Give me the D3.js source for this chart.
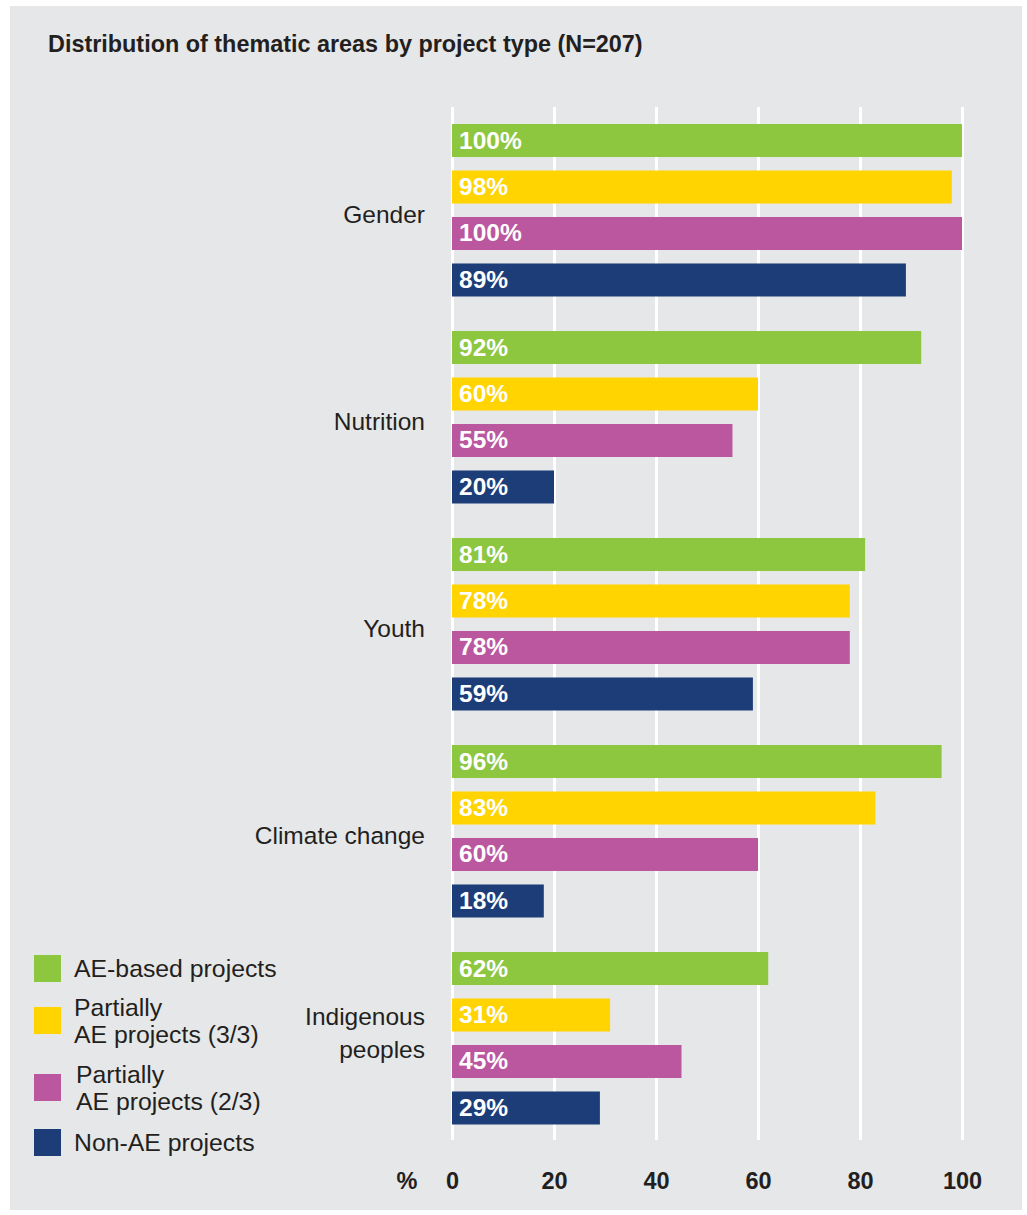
<!DOCTYPE html>
<html>
<head>
<meta charset="utf-8">
<script src="https://cdn.jsdelivr.net/npm/d3@7"></script>
<style>
  html, body { margin: 0; padding: 0; background: #ffffff; }
  svg { display: block; font-family: "Liberation Sans", Arial, Helvetica, sans-serif; }
</style>
</head>
<body>
<svg id="chart" width="1027" height="1215"></svg>
<script>
// Thematic areas (rows) and project types (series)
const categories = ["Gender", "Nutrition", "Youth", "Climate change", "Indigenous peoples"];
const categoryLines = [["Gender"], ["Nutrition"], ["Youth"], ["Climate change"], ["Indigenous", "peoples"]];
const seriesNames = ["AE-based projects", "Partially AE projects (3/3)", "Partially AE projects (2/3)", "Non-AE projects"];
const legendLines = [["AE-based projects"], ["Partially", "AE projects (3/3)"], ["Partially", "AE projects (2/3)"], ["Non-AE projects"]];
const seriesColors = ["#8dc63f", "#ffd400", "#bb579f", "#1c3d78"];

// Share of projects (%) per thematic area, one array per project type
const aeBased      = [100, 92, 81, 96, 62];
const partial33    = [98, 60, 78, 83, 31];
const partial23    = [100, 55, 78, 60, 45];
const nonAE        = [89, 20, 59, 18, 29];
const seriesValues = [aeBased, partial33, partial23, nonAE];

const tickValues = [0, 20, 40, 60, 80, 100];
const titleText = "Distribution of thematic areas by project type (N=207)";

const svg = d3.select("#chart");
const ink = "#231f20";

// Panel background
svg.append("rect")
  .attr("x", 10).attr("y", 6)
  .attr("width", 1012).attr("height", 1204)
  .attr("fill", "#e6e7e8");

// Title
svg.append("text")
  .attr("x", 48).attr("y", 52)
  .attr("font-size", 23.4).attr("font-weight", "bold")
  .attr("fill", ink)
  .text(titleText);

// Scales
const plotTop = 107, plotBottom = 1142;
const x = d3.scaleLinear().domain([0, 100]).range([452, 962]);
const yGroup = d3.scaleBand().domain(categories).range([plotTop, plotBottom]).paddingInner(0).paddingOuter(0);
const ySeries = d3.scaleBand().domain(seriesNames).range([17, 189.5]).paddingInner(0.29).paddingOuter(0);

// Vertical gridlines + tick labels via axis
const axisY = 1140;
const axis = d3.axisBottom(x)
  .tickValues(tickValues)
  .tickSizeInner(-(axisY - plotTop))
  .tickSizeOuter(0)
  .tickPadding(32)
  .tickFormat(d3.format("d"));

const ax = svg.append("g")
  .attr("transform", `translate(0,${axisY})`)
  .call(axis);
ax.select(".domain").remove();
ax.selectAll(".tick line").attr("stroke", "#ffffff").attr("stroke-width", 3);
ax.selectAll(".tick text")
  .attr("fill", ink)
  .attr("font-size", 23.5)
  .attr("font-weight", "bold")
  .attr("font-family", "Liberation Sans, Arial, sans-serif");

svg.append("text")
  .attr("x", 407).attr("y", 1189)
  .attr("text-anchor", "middle")
  .attr("font-size", 23.5).attr("font-weight", "bold")
  .attr("fill", ink)
  .text("%");

// Rows of bars
const rows = categories.map((c, i) => ({
  category: c,
  lines: categoryLines[i],
  bars: seriesNames.map((s, j) => ({ series: s, value: seriesValues[j][i], color: seriesColors[j] }))
}));

const group = svg.selectAll("g.row")
  .data(rows)
  .join("g")
  .attr("class", "row")
  .attr("transform", d => `translate(0,${yGroup(d.category)})`);

group.selectAll("rect.bar")
  .data(d => d.bars)
  .join("rect")
  .attr("class", "bar")
  .attr("x", x(0))
  .attr("y", d => ySeries(d.series))
  .attr("width", d => x(d.value) - x(0))
  .attr("height", ySeries.bandwidth())
  .attr("fill", d => d.color);

group.selectAll("text.value")
  .data(d => d.bars)
  .join("text")
  .attr("class", "value")
  .attr("x", x(0) + 7)
  .attr("y", d => ySeries(d.series) + ySeries.bandwidth() / 2 + 8)
  .attr("font-size", 24.5).attr("font-weight", "bold")
  .attr("fill", "#ffffff")
  .text(d => d.value + "%");

// Category labels, right-aligned left of the axis
const bandH = yGroup.bandwidth();
group.each(function (d) {
  const n = d.lines.length;
  const lineH = 33;
  const cy = bandH / 2 + 4 - (n - 1) * lineH / 2 - (n > 1 ? 9 : 0);
  const t = d3.select(this).append("text")
    .attr("text-anchor", "end")
    .attr("font-size", 24.5)
    .attr("fill", ink);
  d.lines.forEach((ln, k) => {
    t.append("tspan")
      .attr("x", 425)
      .attr("y", cy + k * lineH + 8)
      .text(ln);
  });
});

// Legend
const legendSquares = [955, 1007, 1074, 1129];
const legendTextX = [74, 74, 76, 74];
const legend = svg.append("g");
seriesNames.forEach((s, i) => {
  const y0 = legendSquares[i];
  legend.append("rect")
    .attr("x", 34).attr("y", y0)
    .attr("width", 27).attr("height", 27)
    .attr("fill", seriesColors[i]);
  const lines = legendLines[i];
  const t = legend.append("text")
    .attr("font-size", 24.8)
    .attr("fill", ink);
  const cy = y0 + 14 - (lines.length - 1) * 27 / 2;
  lines.forEach((ln, k) => {
    t.append("tspan")
      .attr("x", legendTextX[i])
      .attr("y", cy + k * 27 + 8)
      .text(ln);
  });
});
</script>
</body>
</html>
